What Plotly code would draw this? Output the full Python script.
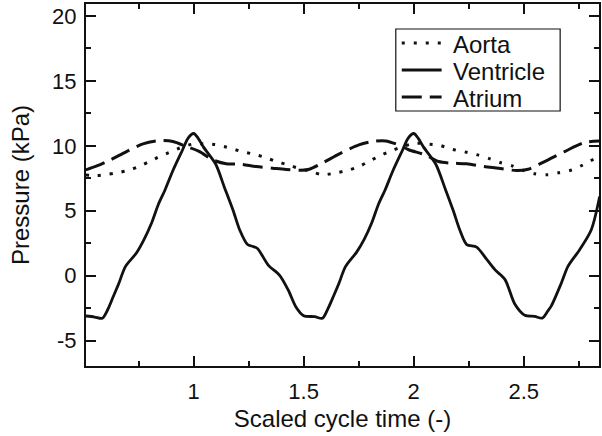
import plotly.graph_objects as go

# ---- data ----
aorta_x = [0.51, 0.56, 0.60, 0.65, 0.70, 0.75, 0.80, 0.84, 0.89, 0.94, 0.994, 1.05, 1.10, 1.155,
           1.21, 1.266, 1.321, 1.374, 1.427, 1.48, 1.53, 1.585, 1.646, 1.698, 1.751, 1.804, 1.854,
           1.902, 1.95, 2.008, 2.068, 2.12, 2.173, 2.23, 2.284, 2.34, 2.392, 2.448, 2.5, 2.55,
           2.608, 2.664, 2.72, 2.77, 2.82, 2.845]
aorta_y = [7.75, 7.72, 7.78, 7.92, 8.1, 8.4, 8.8, 9.13, 9.5, 9.85, 10.13, 10.15, 10.1, 9.87,
           9.6, 9.38, 9.13, 8.8, 8.54, 8.25, 8.05, 7.77, 7.92, 8.1, 8.4, 8.87, 9.3,
           9.64, 9.95, 10.2, 10.13, 10.03, 9.74, 9.54, 9.33, 9.03, 8.72, 8.46, 8.1, 7.85,
           7.77, 7.95, 8.15, 8.54, 9.0, 9.3]

ventricle_x = [0.51, 0.55, 0.585, 0.61, 0.635, 0.66, 0.69, 0.74, 0.775, 0.81, 0.84, 0.87, 0.906,
               0.95, 0.975, 1.0, 1.02, 1.045, 1.10, 1.14, 1.18, 1.21, 1.245, 1.27, 1.29, 1.34,
               1.39, 1.43, 1.465, 1.50, 1.55, 1.585, 1.61, 1.635, 1.66, 1.69, 1.74, 1.775, 1.81,
               1.84, 1.87, 1.906, 1.95, 1.975, 2.0, 2.02, 2.045, 2.10, 2.143, 2.18, 2.21, 2.241,
               2.286, 2.33, 2.37, 2.415, 2.46, 2.505, 2.55, 2.584, 2.61, 2.626, 2.671, 2.701,
               2.754, 2.807, 2.845]
ventricle_y = [-3.1, -3.18, -3.28, -2.6, -1.6, -0.6, 0.7, 1.75, 2.8, 4.1, 5.5, 6.6, 8.1,
               9.7, 10.6, 10.95, 10.6, 9.9, 8.6, 6.8, 5.0, 3.5, 2.4, 2.25, 2.1, 0.8,
               0.05, -1.1, -2.4, -3.08, -3.15, -3.28, -2.55, -1.6, -0.6, 0.7, 1.8, 2.8, 4.1,
               5.5, 6.6, 8.1, 9.7, 10.6, 10.95, 10.6, 9.9, 8.6, 6.7, 5.0, 3.5, 2.4,
               2.2, 1.3, 0.45, -0.3, -2.2, -3.05, -3.13, -3.26, -2.7, -2.3, -0.56, 0.72,
               2.0, 3.54, 6.1]

atrium_x = [0.51, 0.56, 0.62, 0.695, 0.77, 0.846, 0.906, 0.967, 1.027, 1.087, 1.148, 1.208,
            1.284, 1.359, 1.42, 1.48, 1.525, 1.585, 1.66, 1.751, 1.82, 1.872, 1.932, 1.977,
            2.053, 2.113, 2.17, 2.24, 2.32, 2.385, 2.467, 2.52, 2.595, 2.686, 2.777, 2.845]
atrium_y = [8.15, 8.45, 8.9, 9.56, 10.15, 10.4, 10.33, 9.95, 9.56, 8.92, 8.62, 8.6,
            8.41, 8.28, 8.18, 8.12, 8.2, 8.67, 9.36, 10.07, 10.35, 10.38, 10.07, 9.7,
            9.3, 8.79, 8.67, 8.62, 8.41, 8.28, 8.1, 8.2, 8.79, 9.56, 10.26, 10.38]

series_names = ["Aorta", "Ventricle", "Atrium"]
x_tick_vals = [1, 1.5, 2, 2.5]
x_tick_text = ["1", "1.5", "2", "2.5"]
y_tick_vals = [-5, 0, 5, 10, 15, 20]
y_tick_text = ["-5", "0", "5", "10", "15", "20"]

FONT = "Liberation Sans, Arial, Helvetica, sans-serif"
INK = "#111111"
dashes = ["3px,9px", "solid", "20px,8px"]
widths = [3, 2.8, 3]

fig = go.Figure()
for name, xs, ys, d, w in zip(series_names, [aorta_x, ventricle_x, atrium_x],
                              [aorta_y, ventricle_y, atrium_y], dashes, widths):
    fig.add_trace(go.Scatter(x=xs, y=ys, mode="lines", name=name, showlegend=False,
                             line=dict(color=INK, width=w, dash=d, shape="spline", smoothing=0.8)))

axis_common = dict(showline=True, linecolor=INK, linewidth=2, mirror="allticks",
                   ticks="inside", ticklen=10, tickwidth=1.5, tickcolor=INK,
                   showgrid=False, zeroline=False,
                   tickfont=dict(family=FONT, size=22, color=INK))

fig.update_xaxes(range=[0.511, 2.842], tickvals=x_tick_vals, ticktext=x_tick_text,
                 ticklabelstandoff=5,
                 minor=dict(dtick=0.25, ticks="inside", ticklen=5, tickwidth=1.5, tickcolor=INK),
                 title=dict(text="Scaled cycle time (-)", font=dict(family=FONT, size=24, color=INK),
                            standoff=7),
                 **axis_common)
fig.update_yaxes(range=[-6.95, 20.92], tickvals=y_tick_vals, ticktext=y_tick_text,
                 ticklabelstandoff=3,
                 minor=dict(dtick=2.5, ticks="inside", ticklen=5, tickwidth=1.5, tickcolor=INK),
                 title=dict(text="Pressure (kPa)", font=dict(family=FONT, size=24, color=INK),
                            standoff=16),
                 **axis_common)

# ---- legend box drawn with shapes/annotations (in plot-domain coords) ----
L, R, T, B = 86, 601, 4, 366
def px(xp):
    return (xp - L) / (R - L)
def py(yp):
    return (B - yp) / (B - T)

shapes = [dict(type="rect", xref="paper", yref="paper", x0=px(397), x1=px(562),
               y0=py(111), y1=py(29), line=dict(color=INK, width=1.2), fillcolor="white",
               layer="above")]
annotations = []
row_y = [43, 70, 97]
for name, d, w, ry in zip(series_names, dashes, widths, row_y):
    shapes.append(dict(type="line", xref="paper", yref="paper", x0=px(403), x1=px(443),
                       y0=py(ry), y1=py(ry), line=dict(color=INK, width=w, dash=d),
                       layer="above"))
    annotations.append(dict(text=name, xref="paper", yref="paper", x=px(452), y=py(ry + 1),
                            xanchor="left", yanchor="middle", showarrow=False,
                            font=dict(family=FONT, size=24, color=INK)))

fig.update_layout(width=602, height=436, margin=dict(l=L, r=602 - R, t=T, b=436 - B),
                  paper_bgcolor="white", plot_bgcolor="white",
                  shapes=shapes, annotations=annotations,
                  font=dict(family=FONT, color=INK))

fig.write_html("out.html")
